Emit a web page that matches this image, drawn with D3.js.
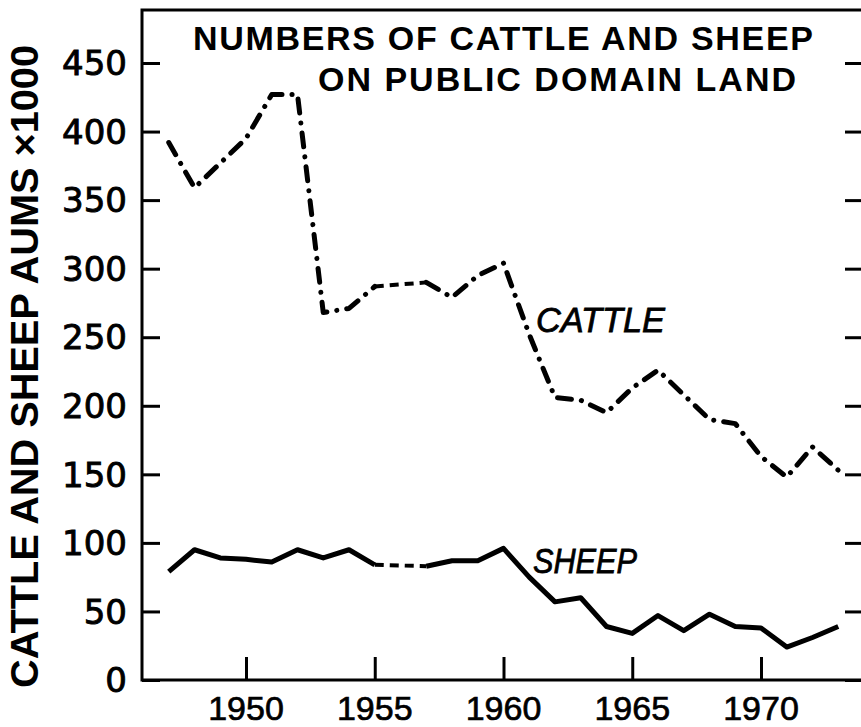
<!DOCTYPE html>
<html>
<head>
<meta charset="utf-8">
<script src="https://cdn.jsdelivr.net/npm/d3@7"></script>
<style>
  body { margin: 0; background: #fff; }
  svg { display: block; }
  .title { font-family: "Liberation Sans", Arial, sans-serif; font-weight: bold; font-size: 34px; fill: #000; }
  .ylab { font-family: "DejaVu Sans", sans-serif; font-size: 34px; fill: #000; stroke: #000; stroke-width: 0.9px; }
  .xlab { font-family: "Liberation Sans", Arial, sans-serif; font-size: 34px; fill: #000; stroke: #000; stroke-width: 0.7px; }
  .series-label { font-family: "Liberation Sans", Arial, sans-serif; font-style: italic; font-size: 35px; fill: #000; stroke: #000; stroke-width: 0.8px; }
</style>
</head>
<body>
<svg id="chart" width="861" height="727"></svg>
<script>
// data (AUMs x 1000), null = year drawn as an estimated dashed bridge
let years  = [1947, 1948, 1949, 1950, 1951, 1952, 1953, 1954, 1955, 1956, 1957, 1958, 1959,
              1960, 1961, 1962, 1963, 1964, 1965, 1966, 1967, 1968, 1969, 1970, 1971, 1972, 1973];
let cattle = [392, 359, 377, 395, 427, 427, 268, 271, 287, null, 290, 279, 295,
              304, 252, 206, 204, 195, 213, 226, 208, 190, 187, 163, 148, 170, 153];
let sheep  = [79, 95, 89, 88, 86, 95, 89, 95, 84, null, 83, 87, 87,
              96, 75, 57, 60, 39, 34, 47, 36, 48, 39, 38, 24, 31, 39];
let yTicks = [0, 50, 100, 150, 200, 250, 300, 350, 400, 450];
let xTicks = [1950, 1955, 1960, 1965, 1970];
let titleLines = ["NUMBERS OF CATTLE AND SHEEP", "ON PUBLIC DOMAIN LAND"];
let yTitle = "CATTLE AND SHEEP AUMS ×1000";

let svg = d3.select("#chart");

let frame = {left: 142, top: 10, right: 864, bottom: 680};

let x = d3.scaleLinear().domain([1950, 1970]).range([246, 761]);
let y = d3.scaleLinear().domain([0, 450]).range([frame.bottom, 63]);

// frame
svg.append("path")
    .attr("d", "M" + frame.right + "," + frame.top + " H" + frame.left + " V" + frame.bottom + " H" + frame.right)
    .attr("fill", "none")
    .attr("stroke", "#000")
    .attr("stroke-width", 3);

// left y axis (ticks inside the frame)
let yAxisLeft = svg.append("g")
    .attr("transform", "translate(" + frame.left + ",0)")
    .call(d3.axisRight(y).tickValues(yTicks).tickSize(18).tickFormat(""));
yAxisLeft.select(".domain").remove();
yAxisLeft.selectAll("line").attr("stroke-width", 3);

// right side ticks
let yAxisRight = svg.append("g")
    .attr("transform", "translate(861,0)")
    .call(d3.axisLeft(y).tickValues(yTicks).tickSize(16).tickFormat(""));
yAxisRight.select(".domain").remove();
yAxisRight.selectAll("line").attr("stroke-width", 3);

// y tick labels
svg.append("g").selectAll("text")
    .data(yTicks)
    .join("text")
    .attr("class", "ylab")
    .attr("x", 127)
    .attr("y", d => y(d))
    .attr("dy", "0.36em")
    .attr("text-anchor", "end")
    .text(d => d);

// bottom x ticks pointing up
let xAxis = svg.append("g")
    .attr("transform", "translate(0," + frame.bottom + ")")
    .call(d3.axisTop(x).tickValues(xTicks).tickSize(23).tickFormat(""));
xAxis.select(".domain").remove();
xAxis.selectAll("line").attr("stroke-width", 3);

svg.append("g").selectAll("text")
    .data(xTicks)
    .join("text")
    .attr("class", "xlab")
    .attr("x", d => x(d))
    .attr("y", 720)
    .attr("text-anchor", "middle")
    .text(d => d);

// titles
svg.append("text")
    .attr("class", "title")
    .attr("x", 193).attr("y", 50)
    .attr("textLength", 620).attr("lengthAdjust", "spacing")
    .text(titleLines[0]);
svg.append("text")
    .attr("class", "title")
    .attr("x", 318).attr("y", 91)
    .attr("textLength", 478).attr("lengthAdjust", "spacing")
    .text(titleLines[1]);

svg.append("text")
    .attr("class", "title")
    .attr("transform", "translate(38,688) rotate(-90)")
    .style("font-size", "38px")
    .attr("textLength", 643).attr("lengthAdjust", "spacingAndGlyphs")
    .text(yTitle);

// lines
let line = d3.line()
    .defined(d => d.v != null)
    .x(d => x(d.year))
    .y(d => y(d.v));

function toPoints(values) {
    return years.map((yr, i) => ({year: yr, v: values[i]}));
}

// points either side of each null, joined as an estimated (dashed) stretch
function bridges(points) {
    let out = [];
    points.forEach((p, i) => {
        if (p.v == null) return;
        let j = i + 1;
        while (j < points.length && points[j].v == null) j++;
        if (j > i + 1 && j < points.length) out.push([p, points[j]]);
    });
    return out;
}

let cattlePts = toPoints(cattle);
let sheepPts = toPoints(sheep);

svg.append("path")
    .datum(cattlePts)
    .attr("d", line)
    .attr("fill", "none")
    .attr("stroke", "#000")
    .attr("stroke-width", 5)
    .attr("stroke-linecap", "round")
    .attr("stroke-linejoin", "round")
    .attr("stroke-dasharray", "14,10,0.1,10");

svg.append("g").selectAll("path")
    .data(bridges(cattlePts))
    .join("path")
    .attr("d", line)
    .attr("fill", "none")
    .attr("stroke", "#000")
    .attr("stroke-width", 4)
    .attr("stroke-dasharray", "9,6");

svg.append("path")
    .datum(sheepPts)
    .attr("d", line)
    .attr("fill", "none")
    .attr("stroke", "#000")
    .attr("stroke-width", 5)
    .attr("stroke-linejoin", "round");

svg.append("g").selectAll("path")
    .data(bridges(sheepPts))
    .join("path")
    .attr("d", line)
    .attr("fill", "none")
    .attr("stroke", "#000")
    .attr("stroke-width", 4)
    .attr("stroke-dasharray", "9,6");

// series labels
svg.append("text")
    .attr("class", "series-label")
    .attr("x", 536).attr("y", 332)
    .attr("textLength", 129).attr("lengthAdjust", "spacingAndGlyphs")
    .text("CATTLE");
svg.append("text")
    .attr("class", "series-label")
    .attr("x", 533).attr("y", 573)
    .attr("textLength", 104).attr("lengthAdjust", "spacingAndGlyphs")
    .text("SHEEP");
</script>
</body>
</html>
